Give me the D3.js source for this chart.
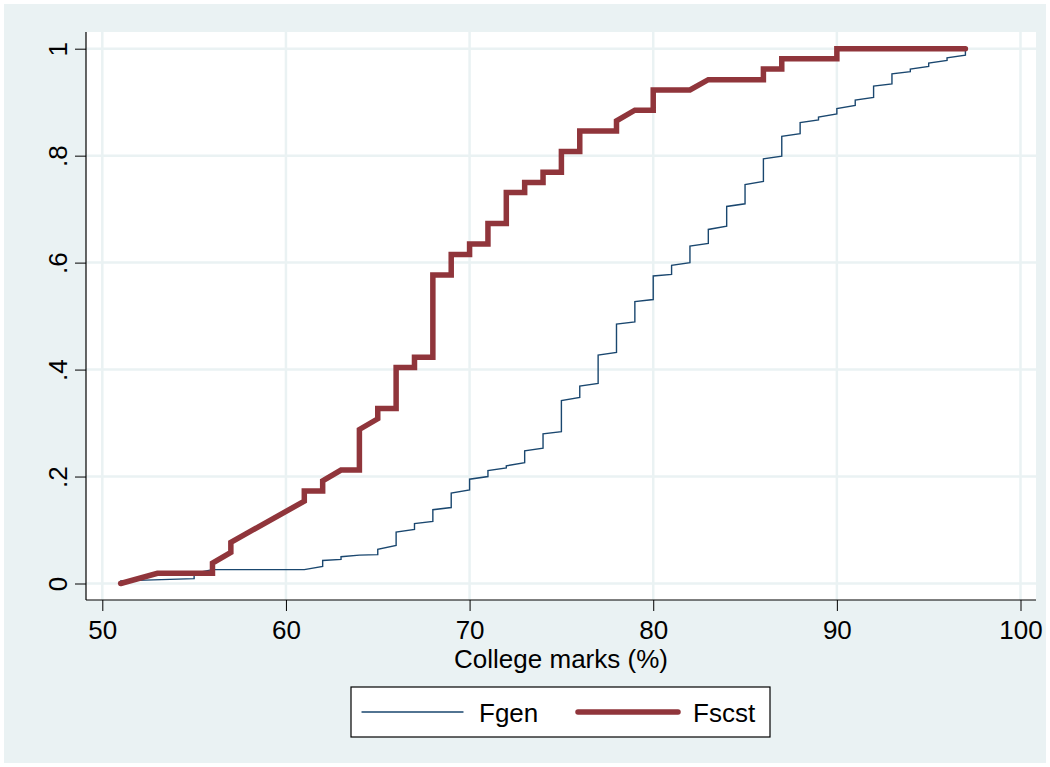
<!DOCTYPE html>
<html>
<head>
<meta charset="utf-8">
<script src="https://cdn.jsdelivr.net/npm/d3@7"></script>
<style>
  body { margin: 0; background: #fff; }
  svg { display: block; font-family: "Liberation Sans", Arial, sans-serif; }
</style>
</head>
<body>
<svg id="chart" width="1050" height="767"></svg>
<script>
// cumulative share of college marks, general vs SC/ST
const marksGen = [51, 55, 55, 56, 61, 62, 62, 63, 63, 64, 65, 65, 66, 66, 67, 67, 68, 68, 69, 69,
  70, 70, 71, 71, 72, 72, 73, 73, 74, 74, 75, 75, 76, 76, 77, 77, 78, 78, 79, 79,
  80, 80, 81, 81, 82, 82, 83, 83, 84, 84, 85, 85, 86, 86, 87, 87, 88, 88, 89, 89,
  90, 90, 91, 91, 92, 92, 93, 93, 94, 94, 95, 95, 96, 96, 97, 97];
const Fgen = [0.005, 0.009, 0.019, 0.026, 0.026, 0.032, 0.043, 0.045, 0.050, 0.053, 0.054, 0.064, 0.071, 0.096, 0.101, 0.112, 0.116, 0.138, 0.142, 0.169,
  0.175, 0.195, 0.200, 0.211, 0.216, 0.220, 0.226, 0.248, 0.253, 0.280, 0.284, 0.342, 0.348, 0.369, 0.374, 0.427, 0.432, 0.485, 0.489, 0.527,
  0.531, 0.575, 0.578, 0.595, 0.600, 0.631, 0.636, 0.662, 0.668, 0.705, 0.710, 0.746, 0.752, 0.794, 0.799, 0.836, 0.841, 0.862, 0.867, 0.872,
  0.878, 0.888, 0.894, 0.904, 0.909, 0.930, 0.934, 0.953, 0.957, 0.962, 0.967, 0.973, 0.978, 0.983, 0.988, 1.0];

const marksScst = [51, 53, 56, 56, 57, 57, 61, 61, 62, 62, 63, 64, 64, 65, 65, 66, 66, 67, 67, 68,
  68, 69, 69, 70, 70, 71, 71, 72, 72, 73, 73, 74, 74, 75, 75, 76, 76, 78, 78, 79,
  80, 80, 82, 83, 86, 86, 87, 87, 90, 90, 97];
const Fscst = [0, 0.019, 0.019, 0.038, 0.058, 0.077, 0.154, 0.173, 0.173, 0.192, 0.212, 0.212, 0.288, 0.308, 0.327, 0.327, 0.404, 0.404, 0.423, 0.423,
  0.577, 0.577, 0.615, 0.615, 0.635, 0.635, 0.673, 0.673, 0.731, 0.731, 0.750, 0.750, 0.769, 0.769, 0.808, 0.808, 0.846, 0.846, 0.865, 0.885,
  0.885, 0.923, 0.923, 0.942, 0.942, 0.962, 0.962, 0.981, 0.981, 1, 1];

const xTicks = [50, 60, 70, 80, 90, 100];
const yTicks = [0, 0.2, 0.4, 0.6, 0.8, 1];
const yTickLabels = ['0', '.2', '.4', '.6', '.8', '1'];
const seriesNames = ['Fgen', 'Fscst'];

const bgColor = '#eaf2f3';
const colors = {Fgen: '#1a476f', Fscst: '#90353b'};
const widths = {Fgen: 1.4, Fscst: 5.5};
const fontSize = '26px';

// plot region (white box) and the inner data range
const plot = {left: 86, right: 1036, top: 32, bottom: 600};
const x = d3.scaleLinear().domain([50, 100]).range([102.3, 1020.5]);
const y = d3.scaleLinear().domain([0, 1]).range([583.5, 48.7]);

const svg = d3.select('#chart');

svg.append('rect')
  .attr('x', 4).attr('y', 4)
  .attr('width', 1042).attr('height', 759)
  .attr('fill', bgColor);

svg.append('rect')
  .attr('x', plot.left).attr('y', plot.top)
  .attr('width', plot.right - plot.left).attr('height', plot.bottom - plot.top)
  .attr('fill', '#fff');

// grid
const grid = svg.append('g')
  .attr('stroke', bgColor)
  .attr('stroke-width', 2.5);

grid.selectAll('line.h')
  .data(yTicks)
  .join('line')
  .attr('class', 'h')
  .attr('x1', plot.left).attr('x2', plot.right)
  .attr('y1', d => y(d)).attr('y2', d => y(d));

grid.selectAll('line.v')
  .data(xTicks)
  .join('line')
  .attr('class', 'v')
  .attr('y1', plot.top).attr('y2', plot.bottom)
  .attr('x1', d => x(d)).attr('x2', d => x(d));

// axes
const yAxis = svg.append('g')
  .attr('transform', `translate(${plot.left},0)`)
  .call(d3.axisLeft(y).tickValues(yTicks).tickSize(11)
    .tickFormat((d, i) => yTickLabels[i]));
yAxis.select('.domain').remove();
yAxis.selectAll('.tick line').attr('stroke', '#000');
yAxis.selectAll('.tick text')
  .attr('transform', 'rotate(-90)')
  .attr('x', 0).attr('y', -19).attr('dy', 0)
  .attr('text-anchor', 'middle')
  .attr('fill', '#000')
  .style('font-size', fontSize)
  .style('font-family', '"Liberation Sans", Arial, sans-serif');

const xAxis = svg.append('g')
  .attr('transform', `translate(0,${plot.bottom})`)
  .call(d3.axisBottom(x).tickValues(xTicks).tickSize(11).tickFormat(d3.format('d')));
xAxis.select('.domain').remove();
xAxis.selectAll('.tick line').attr('stroke', '#000');
xAxis.selectAll('.tick text')
  .attr('y', 39).attr('dy', 0)
  .attr('fill', '#000')
  .style('font-size', fontSize)
  .style('font-family', '"Liberation Sans", Arial, sans-serif');

svg.append('line')
  .attr('x1', plot.left).attr('x2', plot.left)
  .attr('y1', plot.top).attr('y2', plot.bottom)
  .attr('stroke', '#000').attr('stroke-width', 1.2);
svg.append('line')
  .attr('x1', plot.left).attr('x2', plot.right)
  .attr('y1', plot.bottom).attr('y2', plot.bottom)
  .attr('stroke', '#000').attr('stroke-width', 1.2);

svg.append('text')
  .attr('x', (plot.left + plot.right) / 2)
  .attr('y', 668)
  .attr('text-anchor', 'middle')
  .style('font-size', fontSize)
  .text('College marks (%)');

// lines
const line = d3.line()
  .x(d => x(d[0]))
  .y(d => y(d[1]));

const series = [
  {name: 'Fgen', pts: d3.zip(marksGen, Fgen)},
  {name: 'Fscst', pts: d3.zip(marksScst, Fscst)}
];

svg.append('g')
  .selectAll('path')
  .data(series)
  .join('path')
  .attr('d', d => line(d.pts))
  .attr('fill', 'none')
  .attr('stroke', d => colors[d.name])
  .attr('stroke-width', d => widths[d.name])
  .attr('stroke-linecap', 'round')
  .attr('stroke-linejoin', 'miter');

// legend
const legend = svg.append('g');
legend.append('rect')
  .attr('x', 351).attr('y', 687)
  .attr('width', 419).attr('height', 50)
  .attr('fill', '#fff')
  .attr('stroke', '#000')
  .attr('stroke-width', 1.2);

const items = legend.selectAll('g.item')
  .data(seriesNames)
  .join('g')
  .attr('class', 'item')
  .attr('transform', (d, i) => `translate(${362 + i * 214},0)`);

items.append('line')
  .attr('x1', (d, i) => i ? 2 : 0)
  .attr('x2', (d, i) => i ? 102 : 101)
  .attr('y1', 712).attr('y2', 712)
  .attr('stroke', d => colors[d])
  .attr('stroke-width', d => widths[d])
  .attr('stroke-linecap', 'round');

items.append('text')
  .attr('x', 117)
  .attr('y', 722)
  .style('font-size', fontSize)
  .text(d => d);
</script>
</body>
</html>
